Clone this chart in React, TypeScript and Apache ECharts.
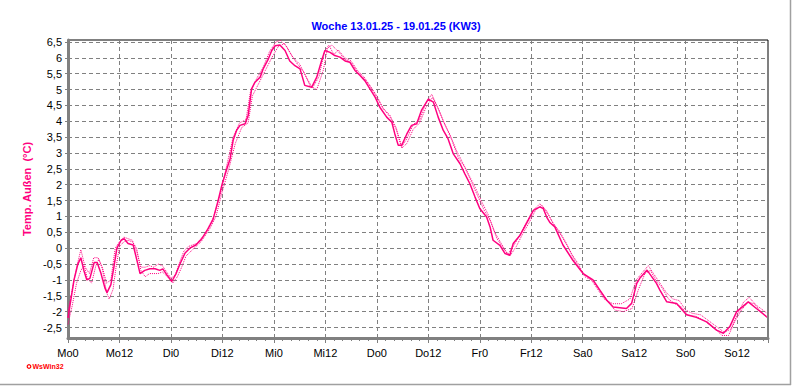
import React, { useEffect, useRef } from "react";
import * as echarts from "echarts";

const titleText = "Woche 13.01.25 - 19.01.25 (KW3)";
const yAxisName = "Temp. Außen  (°C)";
const dayNames = ["Mo", "Di", "Mi", "Do", "Fr", "Sa", "So"];
const yTicks = [-2.5, -2, -1.5, -1, -0.5, 0, 0.5, 1, 1.5, 2, 2.5, 3, 3.5, 4, 4.5, 5, 5.5, 6, 6.5];

// [hour since Mo0, °C]
const tempMain: [number, number][] = [
  [0, -2.2], [0.7, -1.6], [1.4, -1.0], [2.3, -0.5], [3.0, -0.3], [3.7, -0.7], [4.4, -1.0], [5.1, -0.95],
  [6.1, -0.45], [6.8, -0.45], [7.7, -0.8], [8.6, -1.25], [9.1, -1.4], [10.0, -1.15], [10.7, -0.6], [11.4, 0.0],
  [12.4, 0.25], [13.1, 0.3], [14.0, 0.15], [15.2, 0.1], [16.1, -0.4], [16.8, -0.8], [17.9, -0.7], [19.1, -0.65],
  [20.3, -0.65], [21.4, -0.7], [22.1, -0.65], [23.1, -0.85], [24.2, -1.05], [25.2, -0.8], [26.1, -0.5], [27.3, -0.15],
  [28.4, 0.0], [29.8, 0.1], [31.2, 0.3], [32.6, 0.6], [33.8, 0.9], [35.0, 1.5], [35.9, 2.0], [36.8, 2.4],
  [37.8, 2.82], [38.5, 3.4], [39.3, 3.71], [40.1, 3.87], [41.3, 3.92], [42.0, 4.18], [42.8, 5.02], [43.6, 5.23],
  [44.8, 5.39], [45.5, 5.65], [46.7, 5.96], [47.5, 6.23], [48.3, 6.38], [49.4, 6.4], [50.6, 6.23], [51.7, 5.9],
  [52.9, 5.75], [54.1, 5.65], [55.2, 5.13], [56.8, 5.07], [58.0, 5.39], [59.1, 5.9], [59.9, 6.23], [61.1, 6.17],
  [62.2, 6.07], [63.4, 6.02], [64.6, 5.9], [65.7, 5.86], [66.9, 5.6], [68.1, 5.44], [69.2, 5.28], [70.4, 5.02],
  [71.6, 4.76], [72.7, 4.44], [74.3, 4.13], [75.5, 3.97], [76.2, 3.6], [77.0, 3.24], [77.8, 3.24], [79.0, 3.6],
  [80.1, 3.87], [81.3, 3.92], [82.4, 4.34], [84.0, 4.7], [85.2, 4.6], [86.3, 4.13], [87.5, 3.71], [88.6, 3.45],
  [89.8, 2.98], [91.4, 2.66], [92.5, 2.35], [93.7, 2.03], [94.9, 1.61], [96.0, 1.25], [97.6, 0.98], [98.4, 0.67],
  [99.1, 0.25], [100.7, 0.09], [101.9, -0.17], [103.0, -0.22], [103.8, 0.15], [105.4, 0.41], [106.9, 0.78], [108.5, 1.19],
  [110.0, 1.3], [110.8, 1.25], [111.6, 0.98], [112.4, 0.8], [113.5, 0.67], [115.4, 0.1], [117.7, -0.38], [120.1, -0.8],
  [122.4, -1.0], [124.0, -1.32], [125.6, -1.64], [127.1, -1.85], [130.2, -1.9], [131.4, -1.74], [132.6, -1.11], [133.3, -0.95],
  [135.0, -0.69], [137.2, -1.11], [138.0, -1.32], [139.6, -1.69], [141.9, -1.74], [144.2, -2.1], [146.5, -2.18], [148.9, -2.32],
  [151.2, -2.58], [152.8, -2.68], [154.3, -2.47], [155.9, -2.0], [158.6, -1.69], [160.5, -1.9], [162.9, -2.16],
];

const tempDotA: [number, number][] = [
  [0, -2.0], [1, -1.3], [2, -0.6], [3, -0.05], [4, -0.6], [5, -0.8], [6, -0.3], [7, -0.3], [8, -0.6], [9, -1.1],
  [10, -1.0], [11, 0.0], [12, 0.2], [13, 0.35], [14, 0.3], [15, 0.25], [16, -0.1], [17, -0.6], [18, -0.6], [19, -0.55],
  [20, -0.6], [21, -0.5], [22, -0.55], [23, -0.75], [24, -0.95], [25, -0.85], [26, -0.45], [27, -0.1], [28, 0.05], [30, 0.15],
  [32, 0.45], [34, 1.0], [35.5, 1.7], [37, 2.6], [38.5, 3.5], [40, 3.95], [41.5, 4.05], [42.5, 4.9], [44, 5.35], [45.5, 5.7],
  [47, 6.2], [48.5, 6.5], [49.5, 6.55], [51, 6.35], [52.5, 6.0], [54, 5.8], [55.5, 5.4], [57, 5.05], [58.5, 5.4], [59.8, 6.2],
  [60.8, 6.4], [62, 6.1], [63, 6.25], [64.5, 6.0], [66, 5.9], [67.5, 5.6], [69, 5.4], [70.5, 5.1], [72, 4.8], [73.5, 4.4],
  [75, 4.2], [76.5, 3.8], [77.8, 3.2], [79, 3.45], [80.5, 3.9], [82, 4.05], [83.5, 4.6], [84.8, 4.85], [86, 4.5], [87.5, 4.0],
  [89, 3.6], [90.5, 3.1], [92, 2.7], [93.5, 2.3], [95, 1.9], [96.5, 1.45], [98, 1.05], [99.5, 0.5], [101, 0.15], [102.5, -0.2],
  [104, 0.1], [105.5, 0.45], [107, 0.85], [108.5, 1.2], [110, 1.4], [111.5, 1.2], [113, 0.8], [114.5, 0.55], [116, 0.2], [117.5, -0.2],
  [119, -0.5], [120.5, -0.9], [122, -1.0], [123.5, -1.3], [125, -1.6], [127, -1.75], [129, -1.75], [131, -1.6], [132.5, -1.0], [134, -0.75],
  [135.3, -0.55], [136.5, -0.8], [138, -1.1], [139.5, -1.4], [141, -1.6], [142.5, -1.65], [144, -1.95], [145.5, -2.05], [147.5, -2.1], [149.5, -2.3],
  [151.5, -2.5], [153, -2.65], [154.5, -2.55], [156, -2.1], [157.5, -1.7], [158.8, -1.55], [160.5, -1.8], [163, -2.05],
];

const tempDotB: [number, number][] = [
  [0, -2.4], [1, -1.8], [2, -1.1], [3, -0.7], [3.8, -0.55], [4.5, -0.95], [5.5, -1.1], [6.5, -0.55], [7.2, -0.35], [8, -0.65],
  [9, -1.4], [9.6, -1.6], [10.5, -1.3], [11.2, -0.6], [12, 0.05], [13, 0.2], [14, 0.25], [15, 0.2], [16, 0.0], [17, -0.7],
  [18, -0.9], [19, -0.8], [20, -0.8], [21, -0.8], [22, -0.75], [23.2, -0.9], [24.4, -1.1], [25.5, -0.9], [26.5, -0.6], [27.5, -0.25],
  [29, -0.05], [31, 0.2], [33, 0.6], [34.5, 1.0], [36, 1.8], [37.5, 2.5], [39, 3.3], [40.5, 3.8], [42, 3.95], [43, 4.8],
  [44.5, 5.2], [46, 5.6], [47.5, 6.0], [49, 6.35], [50.5, 6.45], [52, 6.1], [53.5, 5.8], [55, 5.55], [56.5, 5.1], [58, 5.0],
  [59.5, 5.6], [60.5, 6.3], [61.5, 6.4], [63, 6.2], [64.5, 5.95], [66, 5.85], [67.5, 5.55], [69, 5.35], [70.5, 5.1], [72, 4.75],
  [73.5, 4.4], [75, 4.15], [76.5, 3.75], [77.8, 3.15], [79, 3.3], [80.5, 3.75], [82, 3.95], [83.5, 4.45], [85, 4.75], [86.5, 4.35],
  [88, 3.85], [89.5, 3.4], [91, 2.85], [92.5, 2.55], [94, 2.1], [95.5, 1.65], [97, 1.2], [98.5, 0.85], [100, 0.3], [101.5, 0.0],
  [103, -0.25], [104.5, 0.05], [106, 0.45], [107.5, 0.8], [109, 1.2], [110.5, 1.35], [112, 1.05], [113.5, 0.7], [115, 0.4], [116.5, 0.05],
  [118, -0.35], [119.5, -0.7], [121, -0.9], [122.5, -1.05], [124, -1.35], [125.5, -1.6], [127.5, -1.95], [129.5, -2.0], [131.5, -1.9], [133, -1.3],
  [134.5, -0.8], [135.8, -0.7], [137, -1.0], [138.5, -1.25], [140, -1.6], [141.5, -1.75], [143, -1.85], [144.5, -2.1], [146.5, -2.15], [148.5, -2.3],
  [150.5, -2.5], [152.5, -2.75], [154, -2.75], [155.5, -2.3], [157, -1.95], [158.5, -1.7], [160, -1.75], [161.5, -2.0], [163, -2.2],
];

const LINE = "#FF0080";
const GRAY = "#808080";
const FONT = "'Liberation Sans', Arial, sans-serif";

export default function App() {
  const ref = useRef<HTMLDivElement>(null);
  useEffect(() => {
    document.body.style.margin = "0";
    const chart = echarts.init(ref.current!, null, { renderer: "svg" });
    const dotted = (data: [number, number][]) => ({
      type: "line",
      data,
      symbol: "none",
      lineStyle: { color: LINE, width: 1, type: [1, 1] },
      z: 2,
    });
    chart.setOption({
      animation: false,
      backgroundColor: "#fff",
      title: {
        text: titleText,
        left: "center",
        top: 15,
        textStyle: { color: "#0000FF", fontSize: 11, fontWeight: "bold", fontFamily: FONT },
      },
      grid: {
        left: 68,
        right: 24,
        top: 40,
        bottom: 49,
        show: true,
        borderColor: "#000",
        borderWidth: 1,
        backgroundColor: "transparent",
      },
      xAxis: {
        type: "value",
        min: 0,
        max: 163.2,
        interval: 12,
        axisLine: { onZero: false, lineStyle: { color: GRAY, width: 3 } },
        axisTick: { length: 5, lineStyle: { color: GRAY, width: 1 } },
        minorTick: { show: true, splitNumber: 6, length: 3, lineStyle: { color: GRAY, width: 1 } },
        splitLine: { show: true, lineStyle: { color: GRAY, width: 1, type: [4, 3] } },
        axisLabel: {
          showMaxLabel: false,
          margin: 9,
          color: "#000",
          fontSize: 11,
          fontFamily: FONT,
          formatter: (v: number) => {
            const d = Math.floor(v / 24);
            return (dayNames[d] ?? "") + String(Math.round(v - d * 24));
          },
        },
      },
      yAxis: {
        type: "value",
        min: -2.83,
        max: 6.56,
        name: yAxisName,
        nameLocation: "middle",
        nameGap: 34,
        nameTextStyle: { color: LINE, fontSize: 11, fontWeight: "bold", fontFamily: FONT },
        axisLine: { show: true, lineStyle: { color: GRAY, width: 3 } },
        axisTick: { show: true, length: 3, customValues: yTicks, lineStyle: { color: GRAY, width: 1 } },
        splitLine: { show: true, lineStyle: { color: GRAY, width: 1, type: [4, 3] } },
        axisLabel: {
          customValues: yTicks,
          margin: 6,
          color: "#000",
          fontSize: 11,
          fontFamily: FONT,
          formatter: (v: number) => String(v).replace(".", ","),
        },
      },
      series: [
        dotted(tempDotA),
        dotted(tempDotB),
        {
          type: "line",
          data: tempMain,
          symbol: "none",
          lineStyle: { color: LINE, width: 1.5 },
          z: 3,
        },
      ],
      graphic: [
        { type: "line", shape: { x1: 0, y1: 384.5, x2: 791, y2: 384.5 }, style: { stroke: "#A0A0A0", lineWidth: 1.5 } },
        { type: "line", shape: { x1: 790.5, y1: 0, x2: 790.5, y2: 385 }, style: { stroke: "#A0A0A0", lineWidth: 1.5 } },
        { type: "circle", shape: { cx: 29, cy: 366.5, r: 1.8 }, style: { fill: "#fff", stroke: "#FF0000", lineWidth: 1.2 } },
        {
          type: "text",
          x: 32.5,
          y: 366.5,
          style: { text: "WsWin32", fill: "#FF0000", fontSize: 7, fontWeight: "bold", fontFamily: FONT, verticalAlign: "middle" },
        },
      ],
    });
    return () => chart.dispose();
  }, []);
  return <div ref={ref} style={{ width: 792, height: 387 }} />;
}
